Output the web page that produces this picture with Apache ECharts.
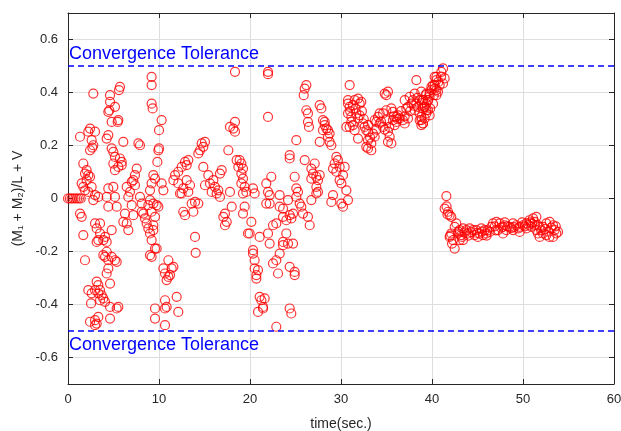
<!DOCTYPE html>
<html>
<head>
<meta charset="utf-8">
<title>Convergence</title>
<script src="https://cdn.jsdelivr.net/npm/echarts@6.0.0/dist/echarts.min.js"></script>
<style>
  html, body { margin: 0; padding: 0; background: #fff; }
  #chart { width: 621px; height: 431px; }
</style>
</head>
<body>
<div id="chart"></div>
<script>
// [time (s), (M1 + M2)/L + V]
const earlyPoints = [
  [0, 0], [0.2, 0], [0.4, 0], [0.6, 0], [0.8, 0], [1.0, 0], [1.2, 0], [1.4, 0],
  [2.78, 0.396], [4.62, 0.39], [4.62, 0.365], [4.54, 0.333], [4.43, 0.327], [5.16, 0.346],
  [4.8, 0.289], [5.53, 0.296], [5.71, 0.421], [5.6, 0.409], [5.46, 0.289],
  [1.32, 0.233], [2.42, 0.264], [2.23, 0.252], [2.97, 0.252], [2.6, 0.22], [2.78, 0.201],
  [2.67, 0.192], [2.42, 0.182], [4.43, 0.239], [4.25, 0.226], [6.08, 0.214],
  [7.73, 0.208], [7.91, 0.201], [9.19, 0.459], [9.19, 0.428], [9.19, 0.358], [9.3, 0.34],
  [10.29, 0.296], [10.0, 0.258], [10.0, 0.189], [9.93, 0.182], [9.82, 0.138],
  [4.8, 0.189], [4.98, 0.176], [5.16, 0.157], [5.71, 0.151], [5.9, 0.138], [5.53, 0.119],
  [4.98, 0.132], [5.9, 0.126], [5.16, 0.107],
  [1.68, 0.132], [2.05, 0.107], [1.87, 0.094], [2.23, 0.088], [2.05, 0.069], [1.5, 0.057],
  [1.68, 0.044], [1.87, 0.031], [2.23, 0.025], [2.6, 0.044], [2.42, 0.082],
  [2.97, 0.013], [2.78, -0.006], [3.33, 0.006], [4.43, 0.038], [4.98, 0.044], [5.16, 0.006],
  [4.25, 0.006], [6.45, 0.044], [6.81, 0.025], [6.63, 0.006], [7.0, 0.063],
  [7.55, 0.113], [7.36, 0.088], [7.18, 0.069], [7.36, 0.05],
  [9.38, 0.088], [9.56, 0.075], [9.19, 0.057], [9.01, 0.031], [10.29, 0.057], [10.48, 0.031],
  [7.91, 0.006], [8.1, -0.019], [8.1, -0.05], [8.28, -0.057], [8.46, -0.075], [8.64, -0.094],
  [8.83, -0.113], [9.01, -0.132], [9.19, -0.157], [9.56, -0.189],
  [9.01, -0.006], [9.38, -0.019], [9.74, -0.025], [9.93, -0.031],
  [8.83, -0.025], [9.19, -0.05], [9.56, -0.069], [9.38, -0.101], [9.38, -0.119],
  [7.0, -0.025], [6.26, -0.057], [6.08, -0.088], [6.45, -0.094], [6.63, -0.119], [7.18, -0.063],
  [4.43, -0.031], [5.35, -0.031], [1.32, -0.057], [1.5, -0.069], [1.68, -0.138],
  [2.97, -0.094], [3.52, -0.094], [3.15, -0.113], [3.52, -0.132], [4.07, -0.145], [4.25, -0.164],
  [3.88, -0.157], [4.8, -0.119], [3.33, -0.157], [3.15, -0.164],
  [13.96, -0.145], [14.03, -0.205], [9.74, -0.189], [9.01, -0.214], [9.19, -0.22],
  [3.88, -0.214], [4.07, -0.22], [4.43, -0.233], [4.25, -0.201], [5.16, -0.233], [5.35, -0.239],
  [4.8, -0.22], [4.43, -0.264], [4.25, -0.283], [1.87, -0.233],
  [10.48, -0.264], [10.66, -0.283], [11.03, -0.233], [11.39, -0.264], [10.84, -0.308],
  [11.03, -0.296], [11.58, -0.258], [11.21, -0.289],
  [3.15, -0.314], [3.33, -0.327], [3.52, -0.346], [3.7, -0.365], [3.88, -0.377], [4.07, -0.39],
  [3.33, -0.358], [2.97, -0.346], [2.6, -0.358], [4.62, -0.321], [2.23, -0.346], [2.53, -0.396],
  [3.52, -0.384], [4.62, -0.409], [5.53, -0.409], [5.35, -0.415],
  [2.42, -0.465], [2.97, -0.478], [3.15, -0.472], [2.97, -0.459], [4.62, -0.453], [3.33, -0.447],
  [9.56, -0.415], [9.56, -0.453], [10.66, -0.415], [10.66, -0.478], [12.12, -0.428],
  [11.94, -0.371], [10.66, -0.384], [10.84, -0.409],
  [18.35, 0.478], [17.8, 0.27], [18.35, 0.289], [18.17, 0.264], [18.35, 0.252], [17.62, 0.182],
  [14.69, 0.208], [14.87, 0.195], [15.05, 0.214], [14.51, 0.182], [14.32, 0.17],
  [12.86, 0.138], [13.22, 0.145], [13.04, 0.126], [12.49, 0.119], [12.12, 0.101],
  [11.76, 0.088], [11.58, 0.069], [12.12, 0.057], [12.31, 0.019], [12.67, 0.038], [13.04, 0.069],
  [13.41, 0.05], [13.22, 0.025], [12.49, 0.019],
  [12.67, -0.05], [12.86, -0.063], [13.59, -0.019], [13.96, -0.013], [13.77, -0.05], [14.32, -0.019],
  [14.87, 0.119], [15.42, 0.088], [15.6, 0.057], [16.15, 0.044], [16.52, 0.031], [16.89, 0.107],
  [16.7, 0.094], [15.97, 0.069], [15.05, 0.05], [15.79, 0.025], [16.34, 0.019], [16.7, 0.006],
  [17.25, -0.057], [17.07, -0.069], [17.44, -0.088], [17.25, -0.101],
  [17.8, 0.025], [17.99, -0.031], [18.53, 0.145], [18.72, 0.119]
];

const midPoints = [
  [21.98, 0.478], [21.98, 0.469], [26.19, 0.428], [26.01, 0.415], [25.9, 0.39], [21.98, 0.308],
  [27.66, 0.352], [27.84, 0.34], [26.19, 0.333], [26.37, 0.321], [26.37, 0.289], [26.48, 0.27],
  [28.02, 0.296], [28.21, 0.289], [28.21, 0.277], [28.39, 0.264], [28.57, 0.258], [28.75, 0.245],
  [28.57, 0.233], [28.75, 0.214], [28.94, 0.201], [28.02, 0.258], [25.09, 0.22], [27.66, 0.214],
  [24.36, 0.164], [24.36, 0.151], [26.01, 0.145],
  [18.86, 0.145], [19.05, 0.132], [19.23, 0.113], [19.05, 0.094], [19.23, 0.075], [19.05, 0.057],
  [19.41, 0.044], [19.6, 0.025], [19.23, 0.019], [20.33, 0.038], [20.51, 0.019], [19.41, -0.031],
  [19.23, -0.057], [20.15, -0.088], [19.96, -0.132], [19.78, -0.132], [21.06, -0.145],
  [20.33, -0.195], [20.33, -0.208], [20.51, -0.233], [20.51, -0.264], [20.7, -0.302],
  [20.88, -0.27], [20.7, -0.289],
  [21.06, -0.371], [21.25, -0.384], [21.43, -0.409], [21.61, -0.377], [20.88, -0.428],
  [24.36, -0.415], [24.54, -0.434], [22.89, -0.484], [21.43, -0.415],
  [21.79, 0.057], [22.34, 0.082], [21.98, 0.025], [22.16, 0.013], [21.79, -0.019], [22.16, -0.019],
  [23.26, 0.013], [23.26, -0.031], [24.18, -0.006], [23.63, -0.038],
  [22.53, -0.101], [22.89, -0.094], [21.98, -0.132], [22.16, -0.17], [22.89, -0.233],
  [22.53, -0.245], [23.08, -0.283], [23.26, -0.208], [23.63, -0.164], [23.99, -0.132],
  [24.18, -0.17], [24.73, -0.17], [24.36, -0.258], [24.91, -0.277], [24.91, -0.289], [23.63, -0.176],
  [23.63, -0.069], [23.99, -0.082], [24.36, -0.063], [24.54, -0.075], [24.73, -0.057],
  [25.09, 0.038], [25.27, 0.025], [25.46, -0.019], [25.64, -0.031], [25.82, -0.057],
  [26.37, -0.069], [26.56, -0.101], [26.74, -0.006], [24.91, 0.082], [25.09, 0.006],
  [26.74, 0.113], [26.92, 0.094], [27.11, 0.132], [27.29, 0.082], [26.74, 0.075], [27.47, 0.069],
  [27.66, 0.088], [27.29, 0.044], [27.47, 0.025], [27.29, 0.019],
  [29.49, 0.157], [29.67, 0.145], [29.3, 0.132], [29.12, 0.113], [29.49, 0.101], [29.85, 0.119],
  [30.4, 0.119], [30.22, 0.088], [29.85, 0.069], [30.04, 0.057], [30.59, 0.031], [30.77, -0.006],
  [30.04, -0.019], [30.22, -0.031], [29.12, 0.013], [28.94, -0.013],
  [30.95, 0.428], [30.77, 0.371], [30.77, 0.358], [30.95, 0.346], [31.32, 0.352], [31.5, 0.371],
  [31.87, 0.377], [32.05, 0.358], [32.23, 0.365], [30.77, 0.321], [31.14, 0.308], [31.68, 0.321],
  [31.87, 0.302], [32.05, 0.314], [30.95, 0.27], [31.32, 0.277], [31.5, 0.258], [31.87, 0.226],
  [32.42, 0.283], [32.6, 0.27], [32.78, 0.258], [32.97, 0.22], [32.78, 0.195], [32.97, 0.189],
  [33.33, 0.208], [33.33, 0.182], [33.52, 0.245], [33.7, 0.233], [33.7, 0.296], [33.88, 0.289],
  [34.07, 0.308], [34.25, 0.321], [34.62, 0.321], [34.98, 0.333], [34.8, 0.396], [35.16, 0.403],
  [34.98, 0.39], [35.53, 0.34], [35.71, 0.327], [34.98, 0.296], [35.16, 0.252], [35.35, 0.233],
  [35.16, 0.214], [35.53, 0.208], [35.71, 0.296], [35.9, 0.277], [36.08, 0.289], [36.45, 0.302],
  [36.81, 0.296], [37.0, 0.283], [37.18, 0.34], [37.36, 0.346], [37.0, 0.371], [37.55, 0.384],
  [37.91, 0.371], [38.1, 0.396], [38.28, 0.358], [38.1, 0.333], [38.64, 0.321], [38.83, 0.296],
  [39.01, 0.283], [39.19, 0.346], [39.38, 0.333], [38.83, 0.403], [38.28, 0.447], [38.64, 0.371],
  [39.56, 0.371], [39.74, 0.396], [39.93, 0.421], [40.29, 0.428], [40.48, 0.409], [40.11, 0.358],
  [39.74, 0.314], [40.48, 0.459],
  [30.59, 0.27], [31.14, 0.289], [32.97, 0.277], [34.25, 0.283], [34.62, 0.27], [36.08, 0.308],
  [36.27, 0.314], [37.36, 0.302], [37.73, 0.358], [38.46, 0.346], [39.01, 0.371],
  [31.0, 0.33], [31.6, 0.34], [32.3, 0.33], [32.5, 0.3], [33.0, 0.25], [33.2, 0.23],
  [33.9, 0.26], [34.4, 0.29], [34.8, 0.26], [35.3, 0.27], [35.8, 0.31], [36.2, 0.3],
  [36.6, 0.33], [37.0, 0.31], [37.6, 0.33], [38.0, 0.35], [38.4, 0.38], [38.9, 0.36],
  [39.3, 0.39], [39.8, 0.34], [40.2, 0.39], [40.7, 0.44], [41.0, 0.46]
];

const latePoints = [
  [41.21, 0.491], [41.03, 0.478], [41.39, 0.453], [40.29, 0.459], [40.48, 0.447], [40.11, 0.428],
  [40.84, 0.428], [41.21, 0.434], [39.93, 0.409], [40.29, 0.415], [40.66, 0.403], [40.48, 0.39],
  [39.74, 0.384], [39.56, 0.371], [39.38, 0.358], [39.19, 0.346], [39.56, 0.333], [39.01, 0.34],
  [39.38, 0.321], [38.83, 0.308], [39.19, 0.302], [39.01, 0.283], [38.83, 0.277], [38.64, 0.296],
  [39.01, 0.371], [39.38, 0.396],
  [41.58, 0.009], [41.39, -0.038], [41.76, -0.05], [41.94, -0.063], [42.12, -0.069],
  [42.67, -0.094], [42.49, -0.107], [42.12, -0.132], [41.94, -0.145], [42.31, -0.157],
  [43.04, -0.157], [43.41, -0.157], [42.49, -0.189], [43.04, -0.119], [43.41, -0.113],
  [43.77, -0.119], [44.14, -0.113], [44.51, -0.119], [44.87, -0.119], [45.24, -0.132],
  [45.6, -0.138], [45.97, -0.132], [46.34, -0.126], [46.52, -0.107], [46.7, -0.094],
  [47.07, -0.088], [47.44, -0.094], [47.8, -0.107], [47.99, -0.101], [48.17, -0.119],
  [48.53, -0.107], [48.9, -0.094], [49.27, -0.101], [49.63, -0.107], [50.0, -0.101],
  [50.37, -0.094], [50.73, -0.082], [51.1, -0.075], [51.47, -0.069], [51.28, -0.088],
  [51.47, -0.119], [51.65, -0.132], [51.83, -0.145], [52.2, -0.107], [52.56, -0.094],
  [52.93, -0.088], [53.3, -0.101], [53.48, -0.119], [53.66, -0.132], [53.85, -0.126],
  [53.3, -0.145], [52.56, -0.138], [52.2, -0.132], [51.83, -0.107], [47.25, -0.119],
  [47.8, -0.132], [48.9, -0.119], [49.63, -0.126], [50.37, -0.113], [50.92, -0.107],
  [45.79, -0.119], [45.42, -0.113], [42.86, -0.132], [43.22, -0.138], [43.96, -0.132],
  [44.69, -0.138], [45.05, -0.145],
  [41.6, -0.03], [41.7, -0.06], [42.0, -0.14], [42.2, -0.17],
  [42.9, -0.125], [43.6, -0.128], [44.3, -0.127], [45.0, -0.13], [45.5, -0.125], [46.1, -0.12],
  [46.9, -0.105], [47.6, -0.11], [48.3, -0.105], [48.7, -0.112], [49.0, -0.108], [49.5, -0.113],
  [50.2, -0.105], [50.6, -0.1], [51.0, -0.095], [51.6, -0.1], [52.0, -0.12], [52.4, -0.115],
  [52.8, -0.125], [53.1, -0.11], [53.6, -0.105], [52.9, -0.145], [43.3, -0.145], [44.0, -0.14],
  [46.0, -0.14], [47.0, -0.12], [48.0, -0.09], [49.9, -0.09], [50.8, -0.09], [51.3, -0.1]
];

const toleranceLevels = [0.5, -0.5];
const yTicks = [-0.6, -0.4, -0.2, 0, 0.2, 0.4, 0.6];

const axisColor = '#262626';
const fontFamily = 'Liberation Sans, Arial, sans-serif';

const chart = echarts.init(document.getElementById('chart'));

const scatterStyle = {
  type: 'scatter',
  symbol: 'circle',
  symbolSize: 9,
  itemStyle: { color: 'rgba(0,0,0,0)', borderColor: '#ff0000', borderWidth: 1.2 },
  emphasis: { disabled: true },
  silent: true
};

chart.setOption({
  animation: false,
  backgroundColor: '#ffffff',
  grid: { left: 68, right: 7, top: 13, bottom: 47, outerBoundsMode: 'none', containLabel: false },
  xAxis: [
    {
      type: 'value',
      min: 0,
      max: 60,
      interval: 10,
      name: 'time(sec.)',
      nameLocation: 'middle',
      nameGap: 33,
      nameTextStyle: { color: axisColor, fontSize: 14, fontFamily: fontFamily },
      axisLine: { onZero: false, lineStyle: { color: axisColor, width: 1 } },
      axisTick: { inside: true, length: 5, lineStyle: { color: axisColor } },
      axisLabel: { color: axisColor, fontSize: 13, fontFamily: fontFamily, margin: 9 },
      splitLine: { show: true, lineStyle: { color: '#dedede', width: 1 } }
    },
    {
      type: 'value',
      position: 'top',
      min: 0,
      max: 60,
      interval: 10,
      axisLine: { onZero: false, lineStyle: { color: axisColor, width: 1 } },
      axisTick: { inside: true, length: 5, lineStyle: { color: axisColor } },
      axisLabel: { show: false },
      splitLine: { show: false }
    }
  ],
  yAxis: [
    {
      type: 'value',
      min: -0.7,
      max: 0.7,
      name: '(M\u2081 + M\u2082)/L + V',
      nameLocation: 'middle',
      nameGap: 42,
      nameTextStyle: { color: axisColor, fontSize: 14, fontFamily: fontFamily },
      axisLine: { onZero: false, lineStyle: { color: axisColor, width: 1 } },
      axisTick: { inside: true, length: 5, customValues: yTicks, lineStyle: { color: axisColor } },
      axisLabel: {
        color: axisColor, fontSize: 13, fontFamily: fontFamily, margin: 10,
        customValues: yTicks,
        formatter: v => String(Math.round(v * 10) / 10)
      },
      splitLine: { show: true, lineStyle: { color: '#dedede', width: 1 } }
    },
    {
      type: 'value',
      position: 'right',
      min: -0.7,
      max: 0.7,
      axisLine: { onZero: false, lineStyle: { color: axisColor, width: 1 } },
      axisTick: { inside: true, length: 5, customValues: yTicks, lineStyle: { color: axisColor } },
      axisLabel: { show: false, customValues: yTicks },
      splitLine: { show: false }
    }
  ],
  series: [
    Object.assign({ name: 'early', data: earlyPoints }, scatterStyle),
    Object.assign({ name: 'mid', data: midPoints }, scatterStyle),
    Object.assign({
      name: 'late',
      data: latePoints,
      markLine: {
        silent: true,
        symbol: 'none',
        lineStyle: { color: '#0000ff', type: [6, 4], width: 1.5 },
        data: toleranceLevels.map((lvl, i) => ({
          yAxis: lvl,
          label: {
            show: true,
            formatter: 'Convergence Tolerance',
            position: i === 0 ? 'insideStartTop' : 'insideStartBottom',
            distance: i === 0 ? [1, 3] : [1, 5.5],
            color: '#0000ff',
            fontSize: 18,
            fontFamily: fontFamily
          }
        }))
      }
    }, scatterStyle)
  ]
});
</script>
</body>
</html>
